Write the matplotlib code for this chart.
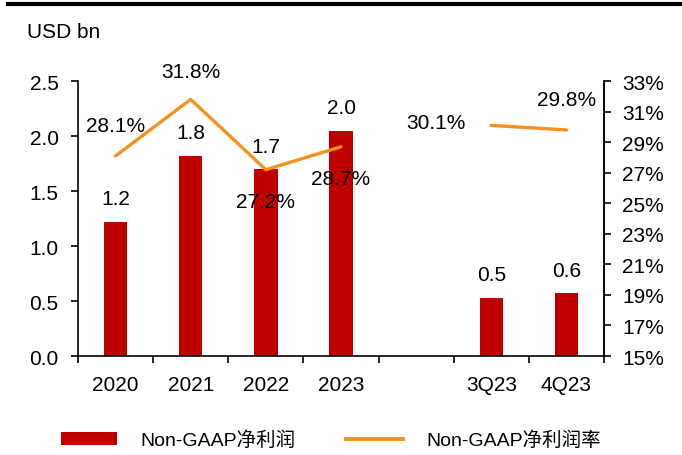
import numpy as np
import matplotlib.pyplot as plt
from matplotlib.lines import Line2D
from matplotlib.patches import Patch

plt.rcParams['font.family'] = ['Liberation Sans', 'Noto Sans CJK SC', 'DejaVu Sans']

categories = ['2020', '2021', '2022', '2023', '', '3Q23', '4Q23']
profit = [1.22, 1.82, 1.70, 2.05, np.nan, 0.53, 0.57]
profit_labels = ['1.2', '1.8', '1.7', '2.0', '', '0.5', '0.6']
margin = [28.1, 31.8, 27.2, 28.7, np.nan, 30.1, 29.8]

bar_color = '#C00000'
line_color = '#F7901E'

fig = plt.figure(figsize=(6.82, 4.56), dpi=100)
ax = fig.add_axes([0.1144, 0.217, 0.7712, 0.603])
ax2 = ax.twinx()

x = np.arange(len(categories))
ax.bar(x, profit, width=0.31, color=bar_color, zorder=2)
ax2.plot(x, margin, color=line_color, lw=2.4, solid_capstyle='round', zorder=3)

ax.set_xlim(-0.5, len(categories) - 0.5)
ax.set_ylim(0, 2.5)
ax.set_yticks(np.arange(0, 2.51, 0.5))
ax.set_yticklabels([f'{v:.1f}' for v in np.arange(0, 2.51, 0.5)])
ax2.set_ylim(15, 33)
ax2.set_yticks(range(15, 34, 2))
ax2.set_yticklabels([f'{v}%' for v in range(15, 34, 2)])

ax.set_xticks(x)
ax.set_xticklabels(categories)
ax.set_xticks(np.arange(-0.5, len(categories)), minor=True)
ax.tick_params(axis='x', which='major', length=0, pad=14, labelsize=15)
ax.tick_params(axis='x', which='minor', length=5, width=1.2, direction='out')
ax.tick_params(axis='y', length=5, width=1.2, labelsize=15, pad=9)
ax2.tick_params(axis='y', length=5, width=1.2, labelsize=15, pad=8)

for a in (ax, ax2):
    a.spines['top'].set_visible(False)
    for s in a.spines.values():
        s.set_linewidth(1.2)
ax2.spines['left'].set_visible(False)
ax2.spines['bottom'].set_visible(False)

# bar value labels
for xi, v, lab in zip(x, profit, profit_labels):
    if lab:
        ax.annotate(lab, (xi, v), xytext=(0, 23), textcoords='offset pixels',
                    ha='center', va='center', fontsize=15)

# margin labels
margin_offsets = [(0, 30), (0, 28), (0, -32), (0, -32), None, (-55, 3), (0, 30)]
for xi, m, off in zip(x, margin, margin_offsets):
    if off is None:
        continue
    ax2.annotate(f'{m:.1f}%', (xi, m), xytext=off, textcoords='offset pixels',
                 ha='center', va='center', fontsize=15)

fig.text(0.04, 0.928, 'USD bn', fontsize=15, ha='left', va='center')

# header rule
fig.add_artist(Line2D([0.012, 1.0], [0.989, 0.989], transform=fig.transFigure,
                      color='black', lw=3))

handles = [Patch(facecolor=bar_color, edgecolor='none'),
           Line2D([0], [0], color=line_color, lw=2.8)]
fig.legend(handles, ['Non-GAAP净利润', 'Non-GAAP净利润率'],
           loc='center', bbox_to_anchor=(0.485, 0.033), ncol=2, frameon=False,
           fontsize=14, handlelength=2.9, handleheight=0.6, handletextpad=1.2,
           columnspacing=2.6)

fig.savefig('out.png', dpi=100)
